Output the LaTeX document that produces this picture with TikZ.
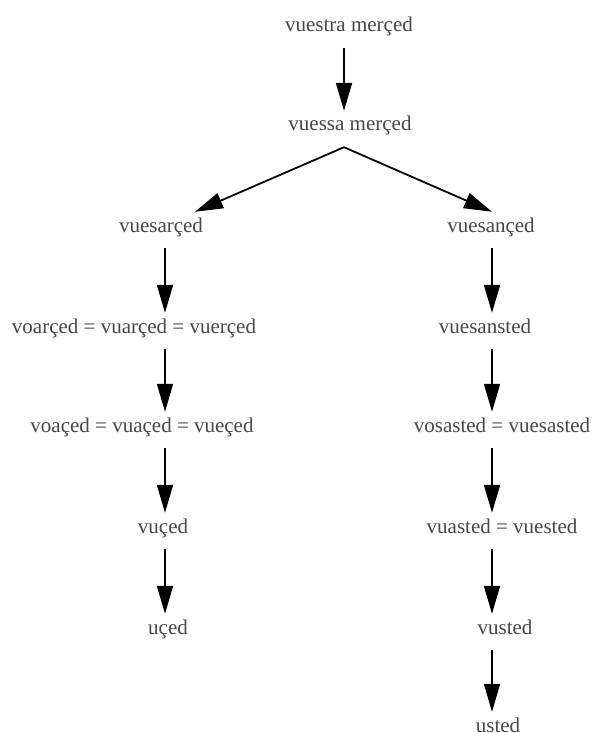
\documentclass[tikz,border=0pt]{standalone}
\usepackage{fontspec}
\setmainfont{Liberation Serif}
\usetikzlibrary{arrows.meta}
\definecolor{txt}{RGB}{72,72,72}
\begin{document}
\begin{tikzpicture}[x=1pt,y=-1pt,
  lbl/.style={anchor=base,inner sep=0pt,text height=20pt,text depth=16pt,
    text=txt,font=\fontsize{21}{25}\selectfont},
  arr/.style={line width=1.8pt,-{Triangle[length=28pt,width=16pt]}}]
\useasboundingbox[fill=white] (0,0) rectangle (594,733);
\coordinate (xm) at (344,0);
\coordinate (xl) at (165,0);
\coordinate (xr) at (492,0);
\node[lbl] (a) at (349,32) {vuestra merçed};
\node[lbl] (b) at (350,131) {vuessa merçed};
\node[lbl] (l1) at (161,232) {vuesarçed};
\node[lbl] (l2) at (134,333) {voarçed = vuarçed = vuerçed};
\node[lbl] (l3) at (142,432) {voaçed = vuaçed = vueçed};
\node[lbl] (l4) at (163,533) {vuçed};
\node[lbl] (l5) at (168,634) {uçed};
\node[lbl] (r1) at (491,232) {vuesançed};
\node[lbl] (r2) at (485,333) {vuesansted};
\node[lbl] (r3) at (502,432) {vosasted = vuesasted};
\node[lbl] (r4) at (502,533) {vuasted = vuested};
\node[lbl] (r5) at (505,634) {vusted};
\node[lbl] (r6) at (498,732) {usted};
\draw[arr] (a.south -| xm) -- (b.north -| xm);
\draw[arr] (b.south -| xm) -- ([xshift=34pt]l1.north);
\draw[arr] (b.south -| xm) -- ([xshift=1pt]r1.north);
\draw[arr] (l1.south -| xl) -- (l2.north -| xl);
\draw[arr] (l2.south -| xl) -- (l3.north -| xl);
\draw[arr] (l3.south -| xl) -- (l4.north -| xl);
\draw[arr] (l4.south -| xl) -- (l5.north -| xl);
\draw[arr] (r1.south -| xr) -- (r2.north -| xr);
\draw[arr] (r2.south -| xr) -- (r3.north -| xr);
\draw[arr] (r3.south -| xr) -- (r4.north -| xr);
\draw[arr] (r4.south -| xr) -- (r5.north -| xr);
\draw[arr] (r5.south -| xr) -- (r6.north -| xr);
\end{tikzpicture}
\end{document}
